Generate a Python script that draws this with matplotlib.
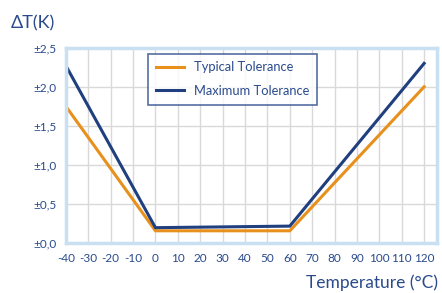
import numpy as np
import matplotlib as mpl
mpl.use('agg')
import matplotlib.pyplot as plt

temps = [-40, 0, 60, 120]
typical = [1.75, 0.155, 0.155, 2.0]
maximum = [2.27, 0.195, 0.215, 2.3]
xticks = list(range(-40, 121, 10))
yticks = [0.0, 0.5, 1.0, 1.5, 2.0, 2.5]

navy = '#2a4a8c'
orange = '#e8901c'
blue = '#1f3f7f'

plt.rcParams['font.family'] = ['Lato', 'DejaVu Sans']

fig = plt.figure(figsize=(4.42, 2.93), dpi=100)
ax = fig.add_axes([0.149, 0.171, 0.839, 0.666])

ax.plot(temps, typical, color=orange, lw=2.2, label='Typical Tolerance')
ax.plot(temps, maximum, color=blue, lw=2.2, label='Maximum Tolerance')

ax.set_xlim(-40, 125.6)
ax.set_ylim(0, 2.5)
ax.set_xticks(xticks)
ax.set_yticks(yticks)
ax.set_xticklabels([str(t) for t in xticks], fontsize=8.5, color=navy)
ax.set_yticklabels(['\u00b1' + ('%.1f' % v).replace('.', ',') for v in yticks],
                   fontsize=8.5, color=navy)
ax.tick_params(length=0, pad=7)
ax.grid(True, color='#d9d9d9', lw=1)
ax.set_axisbelow(True)
for s in ax.spines.values():
    s.set_color('#c8e0f2')
    s.set_linewidth(2.5)

fig.text(0.025, 0.92, '\u0394T(K)', fontsize=13, color=navy, ha='left', va='center')
fig.text(0.99, 0.035, 'Temperature (\u00b0C)', fontsize=12.5, color=navy,
         ha='right', va='center')

leg = ax.legend(loc='upper left', bbox_to_anchor=(0.221, 0.97), fontsize=9.3,
                frameon=True, fancybox=False, handlelength=2.2,
                borderpad=0.6, labelspacing=0.9, borderaxespad=0)
leg.get_frame().set_edgecolor(navy)
leg.get_frame().set_linewidth(1.2)
for t in leg.get_texts():
    t.set_color(navy)

fig.savefig('out.png', dpi=100)
